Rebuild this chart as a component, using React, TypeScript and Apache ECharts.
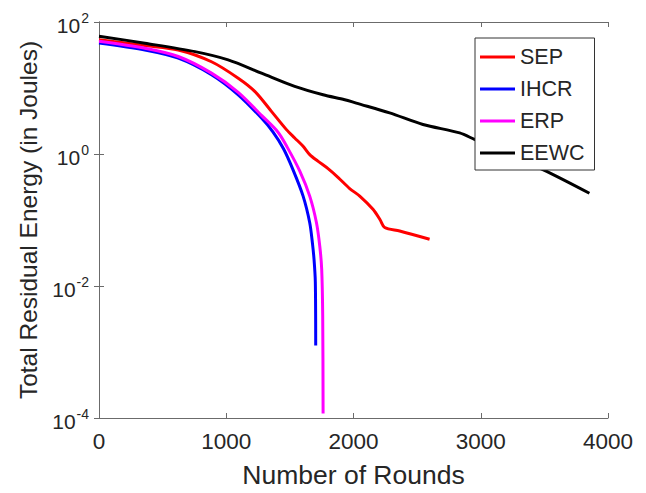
import React, { useEffect, useRef } from "react";
import * as echarts from "echarts";

const seriesNames = ["SEP", "IHCR", "ERP", "EEWC"];
const seriesColors = ["#ff0000", "#0000ff", "#ff00ff", "#000000"];

const sepData: [number, number][] = [
  [0, 54], [361, 44], [623, 37.7], [884, 25], [1094, 14.1], [1224, 8.9], [1355, 4.43],
  [1473, 2.34], [1538, 1.75], [1604, 1.31], [1656, 0.98], [1720, 0.78], [1800, 0.6],
  [1880, 0.44], [1970, 0.3], [2049, 0.23], [2153, 0.145], [2210, 0.1], [2245, 0.077],
  [2363, 0.068], [2598, 0.051],
];
const ihcrData: [number, number][] = [
  [0, 48], [361, 37.7], [623, 28.3], [884, 15.9], [1094, 7.9], [1277, 3.5], [1368, 2.14],
  [1450, 1.2], [1525, 0.575], [1604, 0.23], [1656, 0.091], [1677, 0.045], [1690, 0.025],
  [1700, 0.0115], [1703, 0.00126],
];
const erpData: [number, number][] = [
  [0, 51], [361, 40], [623, 30], [884, 16.8], [1094, 8.6], [1277, 3.85], [1407, 2.14],
  [1480, 1.26], [1578, 0.55], [1656, 0.23], [1709, 0.091], [1735, 0.04], [1750, 0.018],
  [1758, 0.0035], [1761, 0.000117],
];
const eewcData: [number, number][] = [
  [0, 61], [361, 47.7], [754, 35.6], [1015, 26.7], [1277, 16.8], [1538, 10.6],
  [1761, 7.9], [1931, 6.65], [2022, 5.9], [2284, 4.2], [2546, 2.8], [2834, 2.09],
  [2951, 1.66], [3488, 0.58], [3854, 0.254],
];

const allData = [sepData, ihcrData, erpData, eewcData];
const xTicks = [0, 4000, 1000];
const yRange = [1e-4, 1e2];

const textColor = "#262626";
const axisColor = "#6b6b6b";
const font = "Liberation Sans, Arial, sans-serif";

export default function App() {
  const ref = useRef<HTMLDivElement>(null);
  useEffect(() => {
    const chart = echarts.init(ref.current!, null, { renderer: "svg" });
    const axisLine = { show: true, lineStyle: { color: axisColor, width: 1 } };
    const tick = { show: true, inside: true, length: 5, lineStyle: { color: axisColor } };
    chart.setOption({
      animation: false,
      backgroundColor: "#ffffff",
      textStyle: { fontFamily: font },
      grid: { left: 99, right: 38, top: 22, bottom: 74, containLabel: false },
      legend: {
        data: seriesNames,
        orient: "vertical",
        left: 475,
        top: 38,
        z: 10,
        backgroundColor: "#ffffff",
        borderColor: "#333333",
        borderWidth: 1,
        padding: [8, 10, 6, 5],
        itemWidth: 35,
        itemHeight: 3,
        itemGap: 10,
        icon: "rect",
        textStyle: { fontSize: 21.5, lineHeight: 22, color: textColor, fontFamily: font },
      },
      xAxis: [
        {
          type: "value",
          min: xTicks[0],
          max: xTicks[1],
          interval: xTicks[2],
          name: "Number of Rounds",
          nameLocation: "middle",
          nameGap: 43,
          nameTextStyle: { fontSize: 26.5, color: textColor, fontFamily: font },
          axisLine,
          axisTick: tick,
          axisLabel: {
            fontSize: 22.5,
            color: textColor,
            margin: 12,
            fontFamily: font,
            formatter: (v: number) => String(v),
          },
          splitLine: { show: false },
        },
        {
          type: "value",
          position: "top",
          min: xTicks[0],
          max: xTicks[1],
          interval: xTicks[2],
          axisLine,
          axisTick: tick,
          axisLabel: { show: false },
          splitLine: { show: false },
        },
      ],
      yAxis: [
        {
          type: "log",
          logBase: 10,
          min: yRange[0],
          max: yRange[1],
          interval: 2,
          name: "Total Residual Energy (in Joules)",
          nameLocation: "middle",
          nameGap: 58,
          nameTextStyle: { fontSize: 24.5, color: textColor, fontFamily: font },
          axisLine,
          axisTick: tick,
          minorTick: { show: false },
          axisLabel: {
            margin: 10,
            formatter: (v: number) => {
              const e = Math.round(Math.log10(v));
              return "{b|10}{s|" + e + "}";
            },
            rich: {
              b: { fontSize: 21, color: textColor, fontFamily: font, padding: [6, 0, 0, 0] },
              s: { fontSize: 14, color: textColor, fontFamily: font, padding: [0, 0, 8, 1] },
            },
          },
          splitLine: { show: false },
        },
        {
          type: "log",
          logBase: 10,
          min: yRange[0],
          max: yRange[1],
          interval: 2,
          position: "right",
          axisLine,
          axisTick: tick,
          axisLabel: { show: false },
          splitLine: { show: false },
        },
      ],
      series: seriesNames.map((name, i) => ({
        name,
        type: "line",
        xAxisIndex: 0,
        yAxisIndex: 0,
        data: allData[i],
        showSymbol: false,
        symbol: "none",
        smooth: 0.3,
        lineStyle: { color: seriesColors[i], width: 3 },
        itemStyle: { color: seriesColors[i] },
        z: i === 3 ? 3 : 2,
      })),
    });
    return () => chart.dispose();
  }, []);
  return (
    <div
      ref={ref}
      style={{ position: "absolute", left: 0, top: 0, width: 646, height: 493 }}
    />
  );
}
